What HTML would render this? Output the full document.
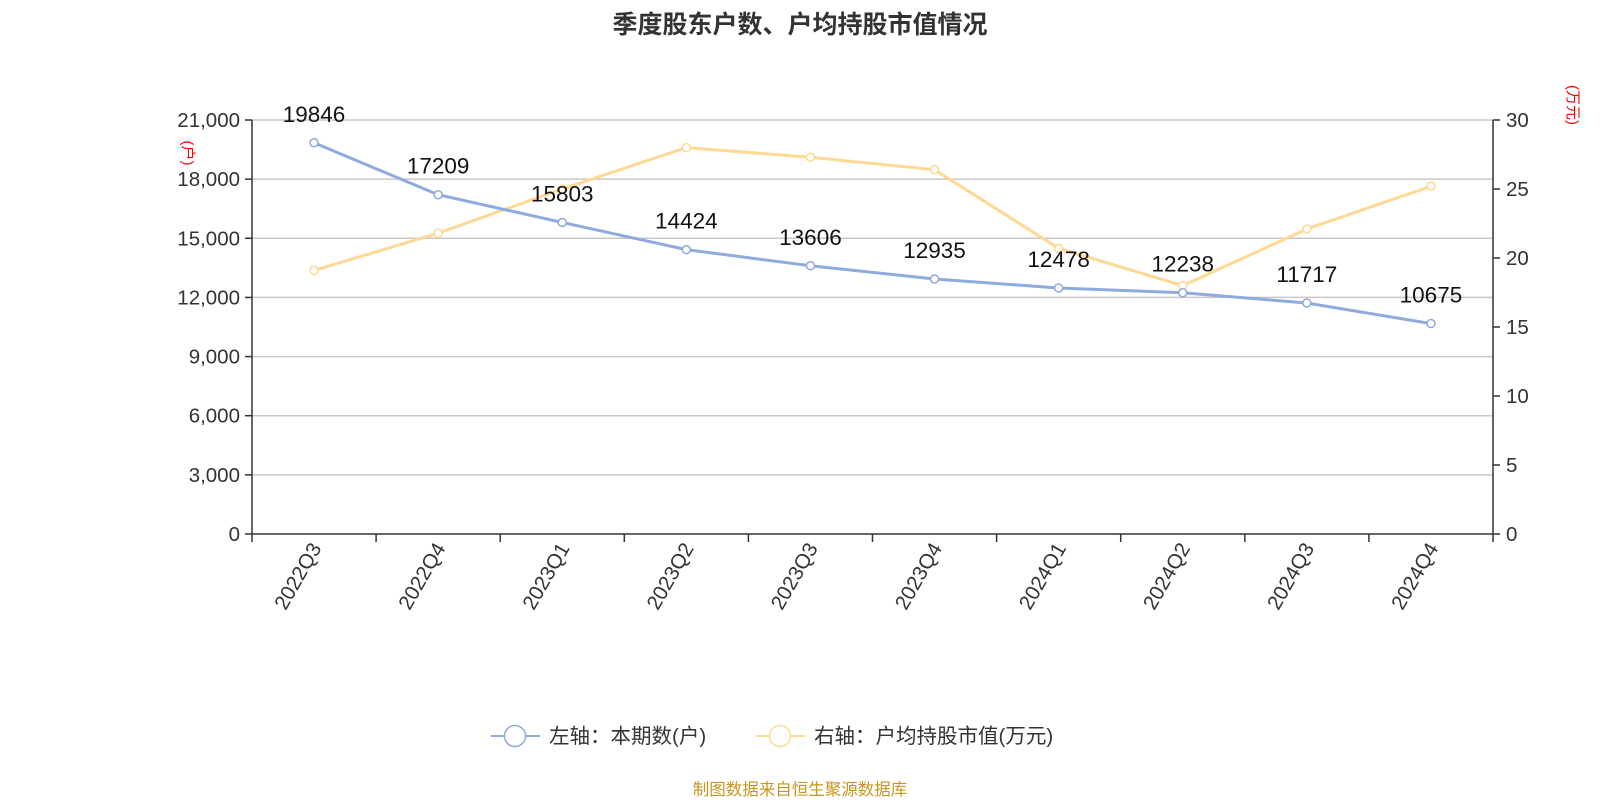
<!DOCTYPE html>
<html><head><meta charset="utf-8">
<style>
html,body{margin:0;padding:0;background:#fff;}
body{width:1600px;height:800px;overflow:hidden;font-family:"Liberation Sans","Noto Sans CJK SC",sans-serif;}
</style></head>
<body>
<svg id="chart" width="1600" height="800" xmlns="http://www.w3.org/2000/svg" font-family="Liberation Sans, Noto Sans CJK SC, sans-serif">
<text x="800" y="33" text-anchor="middle" font-size="25" font-weight="bold" fill="#333">季度股东户数、户均持股市值情况</text>
<g id="grid"></g><g id="axes"></g><g id="series"></g>
<text transform="translate(183,153) rotate(90)" text-anchor="middle" font-size="15" fill="red">(户)</text>
<text transform="translate(1568,105) rotate(90)" text-anchor="middle" font-size="15" fill="red">(万元)</text>
<g>
<line x1="491" y1="736" x2="540" y2="736" stroke="#8faadc" stroke-width="2"/>
<circle cx="515" cy="736" r="10.5" fill="#fff" stroke="#8faadc" stroke-width="1.5"/>
<text x="549" y="743" font-size="20.5" fill="#333">左轴：本期数(户)</text></g>
<g>
<line x1="756" y1="736" x2="805" y2="736" stroke="#ffd993" stroke-width="2"/>
<circle cx="780" cy="736" r="10.5" fill="#fff" stroke="#ffd993" stroke-width="1.5"/>
<text x="814" y="743" font-size="20.5" fill="#333">右轴：户均持股市值(万元)</text></g>
<text x="800" y="795" text-anchor="middle" font-size="16.5" fill="#c8961e">制图数据来自恒生聚源数据库</text>
</svg>
<script>
const categories=["2022Q3","2022Q4","2023Q1","2023Q2","2023Q3","2023Q4","2024Q1","2024Q2","2024Q3","2024Q4"];
const holders=[19846,17209,15803,14424,13606,12935,12478,12238,11717,10675];
const avgValue=[19.1,21.8,25.0,28.0,27.3,26.4,20.7,18.0,22.1,25.2];
const leftTicks=[0,3000,6000,9000,12000,15000,18000,21000];
const rightTicks=[0,5,10,15,20,25,30];
const NS="http://www.w3.org/2000/svg";
const L=252,R=1493,T=120,B=534;
const bw=(R-L)/categories.length;
const x=i=>L+bw*(i+0.5);
const yL=v=>B-(v/21000)*(B-T);
const yR=v=>B-(v/30)*(B-T);
function mk(tag,attrs,parent,txt){const e=document.createElementNS(NS,tag);for(const k in attrs)e.setAttribute(k,attrs[k]);if(txt!==undefined)e.textContent=txt;parent.appendChild(e);return e;}
const grid=document.getElementById('grid'),axes=document.getElementById('axes'),ser=document.getElementById('series');
leftTicks.forEach(v=>{
 if(v>0){const g=mk('line',{x1:L,x2:R,y1:yL(v),y2:yL(v),stroke:'#c8c8c8','stroke-width':1.5},grid);
 }
 mk('line',{x1:L-7,x2:L,y1:yL(v),y2:yL(v),stroke:'#333','stroke-width':1.5},axes);
 const t=mk('text',{x:L-12,y:yL(v)+7,'text-anchor':'end','font-size':20.5,fill:'#333'},axes,v.toLocaleString('en-US'));
 
});
rightTicks.forEach(v=>{
 mk('line',{x1:R,x2:R+7,y1:yR(v),y2:yR(v),stroke:'#333','stroke-width':1.5},axes);
 const t=mk('text',{x:R+13,y:yR(v)+7,'font-size':20.5,fill:'#333'},axes,String(v));
 
});
mk('line',{x1:L,x2:L,y1:T,y2:B,stroke:'#333','stroke-width':1.5},axes);
mk('line',{x1:R,x2:R,y1:T,y2:B,stroke:'#333','stroke-width':1.5},axes);
mk('line',{x1:L,x2:R,y1:B,y2:B,stroke:'#333','stroke-width':1.5},axes);
for(let i=0;i<=categories.length;i++)mk('line',{x1:L+bw*i,x2:L+bw*i,y1:B,y2:B+8,stroke:'#333','stroke-width':1.5},axes);
categories.forEach((c,i)=>{
 const t=mk('text',{transform:`translate(${x(i)+8},${B+14}) rotate(-60)`,'text-anchor':'end','font-size':20.5,fill:'#333'},axes,c);
 
});
function line(vals,yf,color,name){
 const p=mk('polyline',{points:vals.map((v,i)=>x(i)+','+yf(v)).join(' '),fill:'none',stroke:color,'stroke-width':3},ser);
 
 vals.forEach((v,i)=>{const c=mk('circle',{cx:x(i),cy:yf(v),r:4,fill:'#fff',stroke:color,'stroke-width':1.5},ser);
 });
}
line(avgValue,yR,'#ffd993','avg-value');
line(holders,yL,'#8faadc','holders');
holders.forEach((v,i)=>{const t=mk('text',{x:x(i),y:yL(v)-21,'text-anchor':'middle','font-size':22.5,fill:'#111'},ser,String(v));
 });
</script>
</body></html>
